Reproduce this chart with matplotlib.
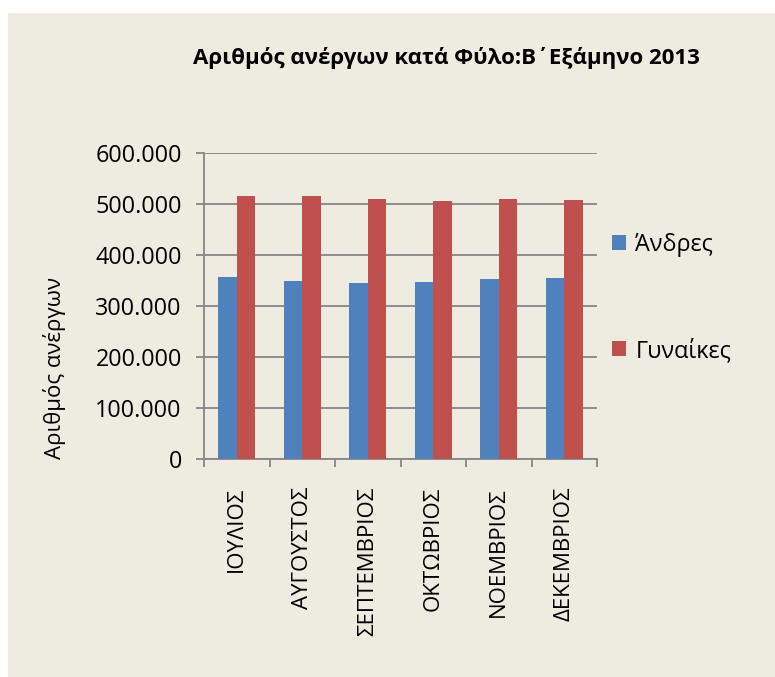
import matplotlib
matplotlib.use("Agg")
import matplotlib.pyplot as plt
from matplotlib.patches import Rectangle
from matplotlib.ticker import FuncFormatter
import numpy as np

plt.rcParams['font.family'] = ['Open Sans', 'DejaVu Sans']

# ── Data ─────────────────────────────────────────────────────────────────────
months = ["ΙΟΥΛΙΟΣ", "ΑΥΓΟΥΣΤΟΣ", "ΣΕΠΤΕΜΒΡΙΟΣ", "ΟΚΤΩΒΡΙΟΣ", "ΝΟΕΜΒΡΙΟΣ", "ΔΕΚΕΜΒΡΙΟΣ"]
men   = [356000, 350000, 346000, 348000, 352000, 355000]
women = [516000, 515000, 510000, 506000, 510000, 507000]
series_labels = ["Άνδρες", "Γυναίκες"]

title  = "Αριθμός ανέργων κατά Φύλο:Β΄Εξάμηνο 2013"
ylabel = "Αριθμός ανέργων"

BG     = "#EEECE1"
BLUE   = "#4F81BD"
RED    = "#C0504D"
GRID   = "#868686"

W, H = 775, 677
fig = plt.figure(figsize=(W / 100, H / 100), dpi=100, facecolor="white")

# beige chart area (white strip at top / left as in the source)
fig.patches.append(Rectangle((8 / W, 0), 1 - 8 / W, 1 - 13 / H,
                             transform=fig.transFigure, facecolor=BG,
                             edgecolor="none", zorder=-10))

ax = fig.add_axes([204 / W, 218 / H, 393 / W, 306 / H])
ax.set_facecolor("none")

x = np.arange(len(months))
bw = 0.282
ax.bar(x - bw / 2, men,   bw, color=BLUE, label=series_labels[0], zorder=3)
ax.bar(x + bw / 2, women, bw, color=RED,  label=series_labels[1], zorder=3)

ax.set_xlim(-0.5, len(months) - 0.5)
ax.set_ylim(0, 600000)
ax.set_yticks(np.arange(0, 600001, 100000))
ax.yaxis.set_major_formatter(FuncFormatter(lambda v, _: f"{int(v):,}".replace(",", ".")))
ax.grid(axis="y", color=GRID, linewidth=1.3, zorder=0)

# ticks at category boundaries, labels at centres
ax.set_xticks(np.arange(-0.5, len(months), 1.0))
ax.set_xticklabels([])
ax.set_xticks(x, minor=True)
ax.set_xticklabels(months, minor=True, rotation=90, fontsize=16, va="top")
ax.tick_params(axis="x", which="major", length=6, color=GRID, width=1.3)
ax.tick_params(axis="x", which="minor", length=0, pad=20)
ax.tick_params(axis="y", length=6, color=GRID, width=1.3, labelsize=16.8, pad=10)

for s in ["top", "right"]:
    ax.spines[s].set_visible(False)
for s in ["left", "bottom"]:
    ax.spines[s].set_color(GRID)
    ax.spines[s].set_linewidth(1.3)

fig.text(446 / W, 1 - 58 / H, title, ha="center", va="center",
         fontsize=16, fontweight="bold")
fig.text(55 / W, 1 - 368 / H, ylabel, ha="center", va="center",
         rotation=90, fontsize=16)

ax.legend(loc="upper left", bbox_to_anchor=(600 / W, 1 - 221 / H),
          bbox_transform=fig.transFigure, frameon=False, fontsize=16.8,
          handlelength=0.62, handleheight=0.62, handletextpad=0.4,
          labelspacing=3.5, borderpad=0)

fig.savefig("out.png", dpi=100, facecolor="white")
